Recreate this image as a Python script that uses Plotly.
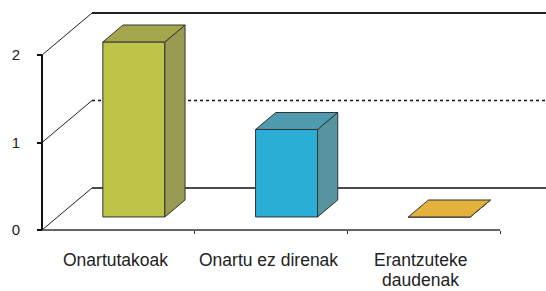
import plotly.graph_objects as go

# ---- data ----
categories = ["Onartutakoak", "Onartu ez direnak", "Erantzuteke daudenak"]
category_label_lines = [["Onartutakoak"], ["Onartu ez direnak"], ["Erantzuteke", "daudenak"]]
values = [2, 1, 0]
y_tick_values = [0, 1, 2]
y_tick_labels = ["0", "1", "2"]

# ---- styles ----
front_colors = ["#BEC447", "#2AAED6", "#E2B23C"]
side_colors = ["#9A9B52", "#5694A0", "#C89A30"]
top_colors = ["#A3A64A", "#4E9BB0", "#E2B23C"]
grid_styles = [dict(dash="solid", width=1.5, color="#111"),
               dict(dash="dot", width=1.5, color="#111"),
               dict(dash="solid", width=2, color="#222")]

PX_X = 152.7   # pixels per category unit
PX_Y = 87.5    # pixels per value unit
DX = 50 / PX_X  # depth offset of back wall (x units)
DY = 42 / PX_Y  # depth offset of back wall (y units)
D0, D1 = 0.31, 0.714  # bar depth (front/back) as fraction of floor depth
HW = 0.203            # half bar width

def proj(x, v, d):
    return x + d * DX, v + d * DY

fig = go.Figure()

n = len(categories)
# back wall gridlines with diagonal links to the front axis
for v, st in zip(y_tick_values, grid_styles):
    x0, y0 = proj(0, v, 0)
    x1, y1 = proj(0, v, 1)
    x2, y2 = proj(n, v, 1)
    fig.add_trace(go.Scatter(x=[x0, x1], y=[y0, y1], mode="lines",
                             line=dict(color="#222", width=1), hoverinfo="skip"))
    fig.add_trace(go.Scatter(x=[x1, x2], y=[y1, y2], mode="lines",
                             line=st, hoverinfo="skip"))

# 3D bars
for i, v in enumerate(values):
    cx = i + 0.5
    xl, xr = cx - HW, cx + HW
    faces = [
        ([(xl, 0, D0), (xr, 0, D0), (xr, v, D0), (xl, v, D0)], front_colors[i]),
        ([(xr, 0, D0), (xr, 0, D1), (xr, v, D1), (xr, v, D0)], side_colors[i]),
        ([(xl, v, D0), (xr, v, D0), (xr, v, D1), (xl, v, D1)], top_colors[i]),
    ]
    for pts, col in faces:
        xs, ys = zip(*[proj(*p) for p in pts])
        fig.add_trace(go.Scatter(x=list(xs) + [xs[0]], y=list(ys) + [ys[0]],
                                 mode="lines", fill="toself", fillcolor=col,
                                 line=dict(color="#333", width=1), hoverinfo="skip"))

# axis lines
fig.add_trace(go.Scatter(x=[0, 0], y=[0, max(y_tick_values)], mode="lines",
                         line=dict(color="#111", width=2), hoverinfo="skip"))
fig.add_trace(go.Scatter(x=[0, n], y=[0, 0], mode="lines",
                         line=dict(color="#333", width=1.5), hoverinfo="skip"))

# category labels (one annotation per text line)
for i, lines in enumerate(category_label_lines):
    for j, txt in enumerate(lines):
        fig.add_annotation(x=i + 0.5, y=0, xref="x", yref="y", text=txt,
                           showarrow=False, xanchor="center", yanchor="middle",
                           xshift=-3, yshift=-30 - 20 * j, borderpad=0,
                           font=dict(size=17.5, color="#222"))

W, H = 546, 291
ml, mb = 38, 57
plot_w, plot_h = W - ml, H - mb
fig.update_layout(
    width=W, height=H,
    margin=dict(l=ml, r=0, t=0, b=mb, pad=0, autoexpand=False),
    paper_bgcolor="white", plot_bgcolor="white",
    showlegend=False,
    font=dict(family="Liberation Sans, Arial, sans-serif", color="#222"),
    xaxis=dict(range=[-4 / PX_X, (plot_w - 4) / PX_X], showgrid=False, zeroline=False,
               showline=False, tickvals=[1, 2, 3], showticklabels=False,
               ticks="outside", ticklen=3, tickcolor="#333", tickwidth=1,
               anchor="free", position=4 / plot_h, automargin=False,
               fixedrange=True),
    yaxis=dict(range=[-4 / PX_Y, (plot_h - 4) / PX_Y], showgrid=False, zeroline=False,
               showline=False, tickvals=y_tick_values, ticktext=y_tick_labels,
               ticks="outside", ticklen=5, tickcolor="#111", tickwidth=1.5,
               tickfont=dict(size=15), ticklabelstandoff=14,
               anchor="free", position=4 / plot_w, automargin=False,
               fixedrange=True),
)

fig.write_html("out.html", config={"displayModeBar": False},
               post_script="document.body.style.margin='0';document.body.style.overflow='hidden';")
